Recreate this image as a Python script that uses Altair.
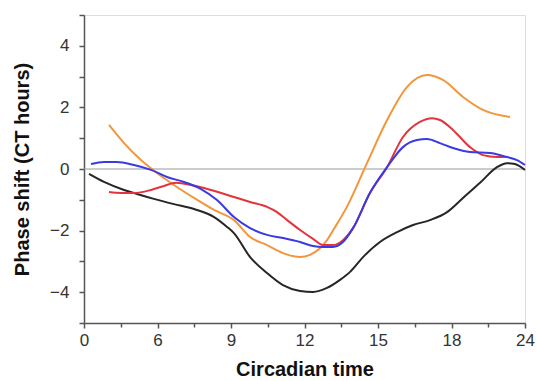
import altair as alt
import pandas as pd

# Circadian time (x) and phase shift (y) for each curve
black_t = [0.41, 1.63, 3.27, 4.33, 5.71, 6.67, 7.49, 8.31, 8.84, 9.12, 9.78, 10.47, 11.12, 11.82, 12.35, 12.92, 13.45, 13.86, 14.39, 15.08, 15.78, 16.43, 17.12, 17.82, 18.94, 20.33, 21.71, 22.53, 23.18, 24.0]
black_y = [-0.16, -0.42, -0.68, -0.81, -0.97, -1.14, -1.30, -1.56, -1.88, -2.08, -2.86, -3.38, -3.77, -3.96, -3.99, -3.86, -3.60, -3.34, -2.86, -2.37, -2.05, -1.82, -1.66, -1.40, -0.94, -0.45, 0.06, 0.19, 0.16, -0.03]

orange_t = [2.04, 3.27, 4.65, 5.96, 6.67, 7.49, 8.31, 9.12, 9.78, 10.47, 11.12, 11.82, 12.22, 12.63, 12.92, 13.2, 13.73, 14.55, 15.37, 16.18, 17.0, 17.65, 18.94, 20.57, 22.78]
orange_y = [1.43, 0.84, 0.29, -0.13, -0.52, -0.94, -1.33, -1.66, -2.21, -2.47, -2.73, -2.86, -2.79, -2.57, -2.31, -1.95, -1.23, 0.19, 1.59, 2.66, 3.05, 2.89, 2.34, 1.92, 1.69]

red_t = [2.04, 3.02, 4.08, 5.47, 6.26, 6.76, 7.37, 8.18, 9.12, 9.78, 10.47, 10.88, 11.29, 11.82, 12.35, 12.76, 13.16, 13.57, 13.98, 14.67, 15.37, 16.02, 16.71, 17.20, 17.53, 18.12, 19.51, 20.57, 21.71, 22.53]
red_y = [-0.75, -0.78, -0.78, -0.68, -0.55, -0.45, -0.52, -0.68, -0.91, -1.07, -1.23, -1.40, -1.66, -1.98, -2.27, -2.47, -2.47, -2.31, -1.92, -0.78, 0.06, 1.04, 1.53, 1.65, 1.59, 1.27, 0.71, 0.45, 0.39, 0.39]

blue_t = [0.57, 1.63, 2.69, 4.08, 5.47, 6.39, 7.08, 7.78, 8.43, 9.12, 9.78, 10.47, 11.12, 11.82, 12.35, 12.76, 13.16, 13.57, 13.98, 14.67, 15.37, 16.02, 16.59, 17.0, 17.53, 18.12, 19.51, 21.14, 22.53, 23.35, 24.0]
blue_y = [0.16, 0.23, 0.23, 0.13, -0.03, -0.26, -0.42, -0.65, -1.01, -1.56, -1.92, -2.14, -2.24, -2.37, -2.50, -2.53, -2.53, -2.37, -1.92, -0.78, 0.06, 0.71, 0.94, 0.97, 0.84, 0.68, 0.55, 0.52, 0.39, 0.29, 0.13]

series_names = ["black", "orange", "red", "blue"]
series_colors = ["#262626", "#f3963c", "#e3343d", "#3a3ae3"]

x_labels = [0, 6, 9, 12, 15, 18, 24]
x_minor = [3, 7.5, 10.5, 13.5, 16.5, 21]
y_ticks = [v / 2 for v in range(-10, 11)]

rows = []
for name, ts, ys in [("black", black_t, black_y), ("orange", orange_t, orange_y),
                     ("red", red_t, red_y), ("blue", blue_t, blue_y)]:
    for i, (t, y) in enumerate(zip(ts, ys)):
        rows.append({"series": name, "t": t, "y": y, "order": i})
df = pd.DataFrame(rows)

W, H = 441, 308
step = W / (len(x_labels) - 1)
xscale = alt.Scale(domain=x_labels, range=[i * step for i in range(len(x_labels))], nice=False, zero=False)
yscale = alt.Scale(domain=[-5, 5], nice=False, zero=False)

font = "Liberation Sans"
x_vals = sorted(x_labels + x_minor)
x_axis = alt.Axis(
    values=x_vals,
    labelExpr="indexof([0,6,9,12,15,18,24], datum.value) >= 0 ? datum.label : ''",
    title="Circadian time",
    grid=False,
    domainColor="#555555", domainWidth=1.5,
    tickColor="#555555", tickWidth=1.5,
    tickSize={"condition": {"test": "indexof([0,6,9,12,15,18,24], datum.value) >= 0", "value": 5}, "value": 4},
    labelFont=font, labelFontSize=17, labelColor="#333333", labelPadding=4,
    titleFont=font, titleFontSize=20, titleFontWeight="bold", titleColor="#111111",
    titleX=W / 2, titleY=52, titleBaseline="alphabetic", titleAlign="center",
    labelFlush=False,
)
y_axis = alt.Axis(
    values=y_ticks,
    labelExpr="datum.value % 2 === 0 ? datum.label : ''",
    format="d",
    title="Phase shift (CT hours)",
    grid=False,
    domainColor="#555555", domainWidth=1.5,
    tickColor="#555555", tickWidth=1.5,
    tickSize=5,
    labelFont=font, labelFontSize=17, labelColor="#333333", labelPadding=10,
    titleFont=font, titleFontSize=20, titleFontWeight="bold", titleColor="#111111",
    titleX=-56, titleY=H / 2, titleBaseline="alphabetic", titleAlign="center", titleAngle=270,
    labelFlush=False,
)

zero = alt.Chart(pd.DataFrame({"y": [0]})).mark_rule(color="#9a9a9a", strokeWidth=1.2).encode(
    y=alt.Y("y:Q", scale=yscale, axis=y_axis)
)

lines = alt.Chart(df).mark_line(strokeWidth=2, interpolate="monotone").encode(
    x=alt.X("t:Q", scale=xscale, axis=x_axis),
    y=alt.Y("y:Q", scale=yscale, axis=y_axis),
    color=alt.Color("series:N", scale=alt.Scale(domain=series_names, range=series_colors), legend=None),
    order="order:Q",
)

chart = alt.layer(zero, lines).properties(
    width=W, height=H,
    autosize="none",
    padding={"left": 84, "top": 15, "right": 12, "bottom": 58},
).configure_view(stroke=None).configure(background="white")

chart.save("out.html", embed_options={"renderer": "svg", "actions": False})
